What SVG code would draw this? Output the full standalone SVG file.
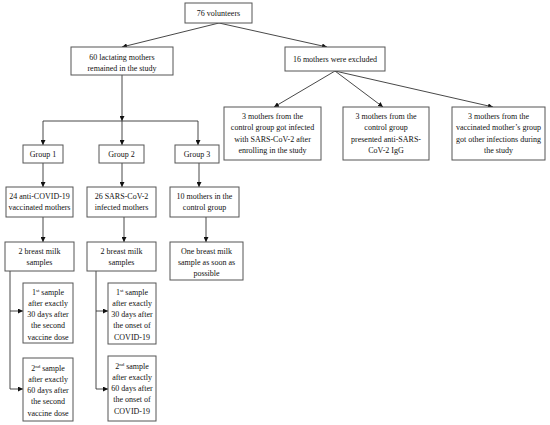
<svg xmlns="http://www.w3.org/2000/svg" width="550" height="425" viewBox="0 0 550 425">
<style>
.box{fill:#fff;stroke:#555;stroke-width:1}
text{font-family:"Liberation Serif","Times New Roman",serif;font-size:8px;fill:#111;text-anchor:middle}
.c line,.c polyline{stroke:#333;stroke-width:0.9;fill:none}
.a{marker-end:url(#ah)}
.sup{font-size:5px}
</style>
<defs>
<marker id="ah" viewBox="0 0 10 10" refX="10" refY="5" markerWidth="5" markerHeight="5" orient="auto" markerUnits="userSpaceOnUse">
<path d="M0,0 L10,5 L0,10 z" fill="#111"/>
</marker>
</defs>
<rect width="550" height="425" fill="#fff"/>
<g class="c" id="connectors">
<line class="a" x1="219" y1="23" x2="122" y2="47"/>
<line class="a" x1="219" y1="23" x2="327" y2="47"/>
<line class="a" x1="122" y1="75" x2="122" y2="121"/>
<line x1="43" y1="121" x2="198" y2="121"/>
<line class="a" x1="43" y1="121" x2="43" y2="145"/>
<line class="a" x1="122" y1="121" x2="122" y2="145"/>
<line class="a" x1="198" y1="121" x2="198" y2="145"/>
<line class="a" x1="335" y1="71" x2="274" y2="107"/>
<line class="a" x1="335" y1="71" x2="383" y2="107"/>
<line class="a" x1="335" y1="71" x2="493" y2="107"/>
<line class="a" x1="43" y1="163" x2="43" y2="187"/>
<line class="a" x1="122" y1="163" x2="122" y2="187"/>
<line class="a" x1="199" y1="163" x2="199" y2="187"/>
<line class="a" x1="43" y1="217" x2="43" y2="242"/>
<line class="a" x1="124" y1="217" x2="124" y2="242"/>
<line class="a" x1="206" y1="217" x2="206" y2="242"/>
<line x1="10" y1="271" x2="10" y2="389"/>
<line class="a" x1="10" y1="311" x2="23" y2="311"/>
<line class="a" x1="10" y1="389" x2="23" y2="389"/>
<line x1="96" y1="271" x2="96" y2="389"/>
<line class="a" x1="96" y1="311" x2="108" y2="311"/>
<line class="a" x1="96" y1="389" x2="108" y2="389"/>
</g>
<g id="n-volunteers"><rect class="box" x="185" y="3" width="67" height="20"/><text x="218.5" y="16">76 volunteers</text></g>
<g id="n-remained"><rect class="box" x="71" y="47" width="102" height="28"/><text x="122" y="60">60 lactating mothers</text><text x="122" y="71">remained in the study</text></g>
<g id="n-excluded"><rect class="box" x="285" y="47" width="100" height="24"/><text x="335" y="62">16 mothers were excluded</text></g>
<g id="n-ex1"><rect class="box" x="224" y="107" width="97" height="53"/><text x="272.5" y="119">3 mothers from the</text><text x="272.5" y="130">control group got infected</text><text x="272.5" y="141.5">with SARS-CoV-2 after</text><text x="272.5" y="153">enrolling in the study</text></g>
<g id="n-ex2"><rect class="box" x="343" y="107" width="86" height="53"/><text x="386" y="119">3 mothers from the</text><text x="386" y="130">control group</text><text x="386" y="141.5">presented anti-SARS-</text><text x="386" y="153">CoV-2 IgG</text></g>
<g id="n-ex3"><rect class="box" x="452" y="107" width="93" height="53"/><text x="498.5" y="119">3 mothers from the</text><text x="498.5" y="130">vaccinated mother’s group</text><text x="498.5" y="141.5">got other infections during</text><text x="498.5" y="153">the study</text></g>
<g id="n-g1"><rect class="box" x="23" y="145" width="40" height="18"/><text x="43" y="157">Group 1</text></g>
<g id="n-g2"><rect class="box" x="99" y="145" width="45" height="18"/><text x="121.5" y="157">Group 2</text></g>
<g id="n-g3"><rect class="box" x="175" y="145" width="44" height="18"/><text x="197" y="157">Group 3</text></g>
<g id="n-vacc"><rect class="box" x="6" y="187" width="67" height="30"/><text x="39.5" y="199">24 anti-COVID-19</text><text x="39.5" y="210">vaccinated mothers</text></g>
<g id="n-inf"><rect class="box" x="87" y="187" width="69" height="30"/><text x="121.5" y="199">26 SARS-CoV-2</text><text x="121.5" y="210">infected mothers</text></g>
<g id="n-ctrl"><rect class="box" x="170" y="187" width="69" height="30"/><text x="204.5" y="199">10 mothers in the</text><text x="204.5" y="210">control group</text></g>
<g id="n-bm1"><rect class="box" x="5" y="242" width="69" height="29"/><text x="39.5" y="253.5">2 breast milk</text><text x="39.5" y="264.5">samples</text></g>
<g id="n-bm2"><rect class="box" x="87" y="242" width="69" height="29"/><text x="121.5" y="253.5">2 breast milk</text><text x="121.5" y="264.5">samples</text></g>
<g id="n-bm3"><rect class="box" x="170" y="242" width="73" height="38"/><text x="206.5" y="253.5">One breast milk</text><text x="206.5" y="264.5">sample as soon as</text><text x="206.5" y="275.5">possible</text></g>
<g id="n-s11"><rect class="box" x="23" y="283" width="50" height="60"/><text x="48" y="295">1<tspan class="sup" dy="-3">st</tspan><tspan dy="3"> sample</tspan></text><text x="48" y="306">after exactly</text><text x="48" y="317">30 days after</text><text x="48" y="328">the second</text><text x="48" y="339.5">vaccine dose</text></g>
<g id="n-s12"><rect class="box" x="23" y="358" width="50" height="63"/><text x="48" y="371">2<tspan class="sup" dy="-3">nd</tspan><tspan dy="3"> sample</tspan></text><text x="48" y="382">after exactly</text><text x="48" y="393">60 days after</text><text x="48" y="404">the second</text><text x="48" y="415.5">vaccine dose</text></g>
<g id="n-s21"><rect class="box" x="108" y="283" width="48" height="61"/><text x="132" y="295">1<tspan class="sup" dy="-3">st</tspan><tspan dy="3"> sample</tspan></text><text x="132" y="306">after exactly</text><text x="132" y="317">30 days after</text><text x="132" y="328">the onset of</text><text x="132" y="339.5">COVID-19</text></g>
<g id="n-s22"><rect class="box" x="108" y="356" width="48" height="65"/><text x="132" y="369">2<tspan class="sup" dy="-3">nd</tspan><tspan dy="3"> sample</tspan></text><text x="132" y="380">after exactly</text><text x="132" y="391">60 days after</text><text x="132" y="402">the onset of</text><text x="132" y="413.5">COVID-19</text></g>
</svg>
